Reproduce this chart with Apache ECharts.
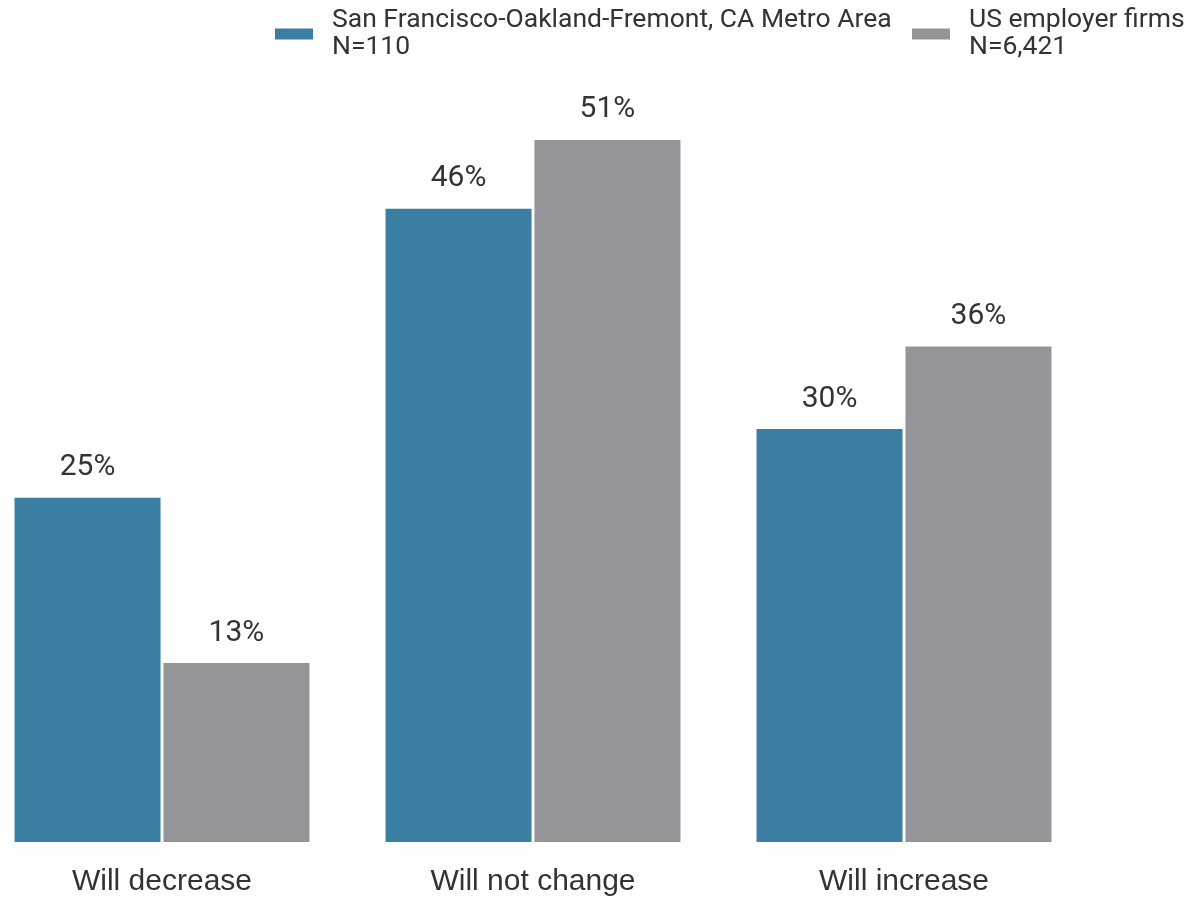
<!DOCTYPE html>
<html lang="en">
<head>
    <meta charset="UTF-8">
    <title>Change expectations</title>
    <script src="https://cdn.jsdelivr.net/npm/echarts@6/dist/echarts.min.js"></script>
</head>
<style>
    html, body { margin: 0; padding: 0; background: #fff; }
    #main { width: 1194px; height: 898px; }
</style>
<body>
<div id="main"></div>
<script>
    var categories = ['Will decrease', 'Will not change', 'Will increase'];
    var seriesNames = ['San Francisco-Oakland-Fremont, CA Metro Area\nN=110', 'US employer firms\nN=6,421'];
    var metroValues = [25, 46, 30];
    var usValues = [13, 51, 36];

    var myChart = echarts.init(document.getElementById('main'));

    function barSeries(name, data, color) {
        return {
            name: name,
            type: 'bar',
            data: data,
            barWidth: 146,
            barGap: '2%',
            itemStyle: { color: color },
            label: {
                show: true,
                position: 'top',
                distance: 15,
                formatter: '{c}%',
                fontFamily: 'Roboto',
                fontSize: 30,
                color: '#333'
            }
        };
    }

    // one legend per series so they never wrap
    function legendAt(left, name) {
        return {
            left: left,
            top: 7,
            padding: 0,
            itemWidth: 38,
            itemHeight: 11,
            icon: 'rect',
            textStyle: {
                fontFamily: 'Roboto',
                fontSize: 26.5,
                lineHeight: 27,
                color: '#333',
                padding: [0, 0, 0, 14]
            },
            data: [name]
        };
    }

    var option = {
        animation: false,
        backgroundColor: '#fff',
        legend: [
            legendAt(275, seriesNames[0]),
            legendAt(912, seriesNames[1])
        ],
        grid: {
            left: -23.5,
            width: 1113,
            top: 16,
            bottom: 56,
            outerBoundsMode: 'none'
        },
        xAxis: {
            type: 'category',
            data: categories,
            axisLine: { show: false },
            axisTick: { show: false },
            axisLabel: {
                margin: 25,
                fontFamily: 'Liberation Sans',
                fontSize: 30,
                color: '#333'
            }
        },
        yAxis: {
            type: 'value',
            min: 0,
            max: 60,
            show: false
        },
        series: [
            barSeries(seriesNames[0], metroValues, '#3a7ea1'),
            barSeries(seriesNames[1], usValues, '#939598')
        ]
    };
    myChart.setOption(option);
</script>
</body>
</html>
